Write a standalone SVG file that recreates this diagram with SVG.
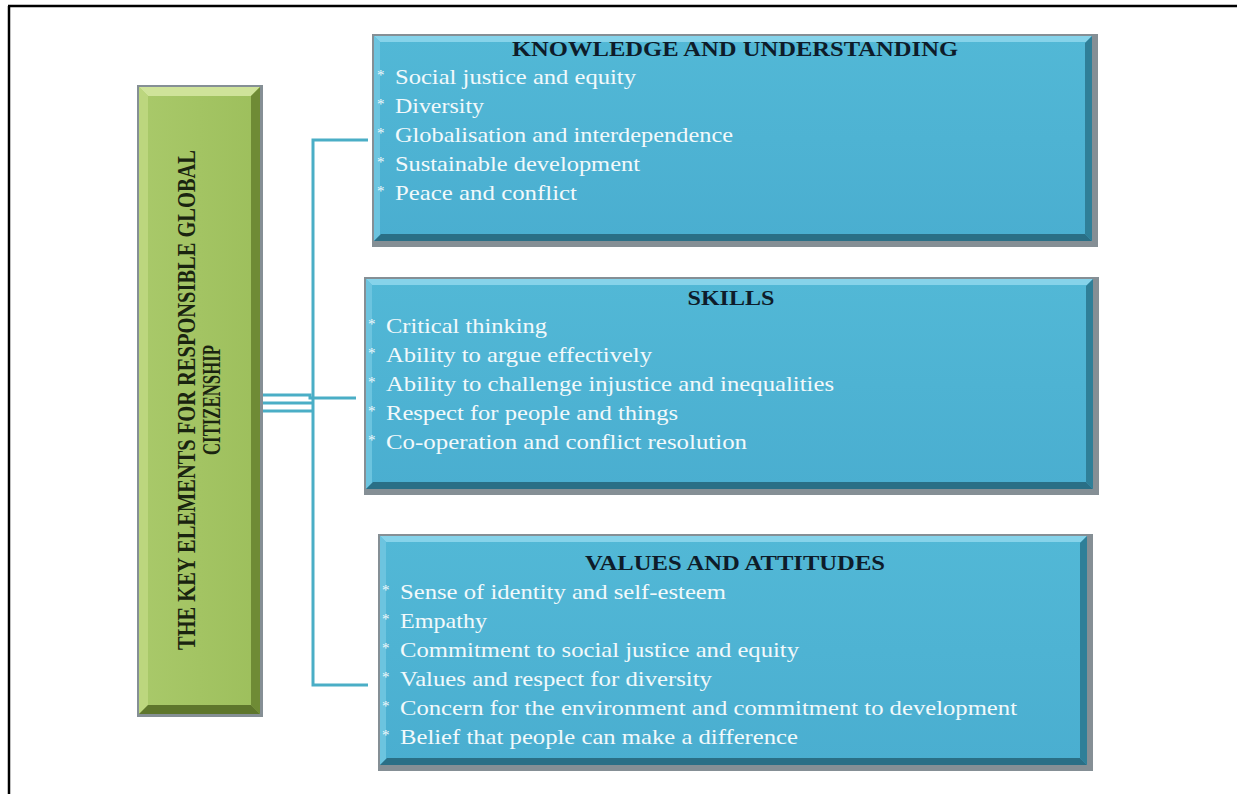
<svg xmlns="http://www.w3.org/2000/svg" width="1237" height="794" viewBox="0 0 1237 794">
<defs>
<linearGradient id="blueFill" x1="0" y1="0" x2="0" y2="1">
<stop offset="0" stop-color="#52b8d6"/>
<stop offset="1" stop-color="#4aaed0"/>
</linearGradient>
<linearGradient id="greenFill" x1="0" y1="0" x2="1" y2="0">
<stop offset="0" stop-color="#a9c96a"/>
<stop offset="1" stop-color="#9dbf5c"/>
</linearGradient>
</defs>
<style>
.frame{stroke:#000;stroke-width:2.5;fill:none}
.shadow{fill:#858f95}
.bfill{fill:url(#blueFill)}
.btop{fill:#86d3ea}
.bleft{fill:#6cc4df}
.bright{fill:#2f7f98}
.bbottom{fill:#2a6f86}
.gfill{fill:url(#greenFill)}
.gtop{fill:#cfe39a}
.gleft{fill:#bcd67e}
.gright{fill:#6f8b35}
.gbottom{fill:#5e762c}
.title{font-family:"Liberation Serif","Times New Roman",serif;font-weight:bold;font-size:20px;fill:#0e1c2a;text-anchor:middle}
.item{font-family:"Liberation Serif","Times New Roman",serif;font-size:21px;fill:#f2f9fb}
.star{font-family:"Liberation Serif","Times New Roman",serif;font-size:15px;fill:#f2f9fb}
.main{font-family:"Liberation Serif","Times New Roman",serif;font-weight:bold;font-size:25px;fill:#1a2410;text-anchor:middle}
.conn{stroke:#4aaec6;stroke-width:3;fill:none}
</style>

<path class="frame" d="M8,6 H1237 M9,6 V794"/>

<g id="connectors">
<path class="conn" d="M368,140 H313 V685 H368"/>
<path class="conn" d="M263,395 H310 V398 H356"/>
<path class="conn" d="M263,403 H313"/>
<path class="conn" d="M263,411 H313"/>
</g>

<g id="node-main">
<rect class="shadow" x="137" y="85" width="126" height="632"/>
<rect class="gfill" x="139" y="87" width="121" height="627"/>
<polygon class="gtop" points="139,87 260,87 251,96 148,96"/>
<polygon class="gleft" points="139,87 148,96 148,705 139,714"/>
<polygon class="gright" points="260,87 260,714 251,705 251,96"/>
<polygon class="gbottom" points="139,714 260,714 251,705 148,705"/>
<text class="main" transform="translate(195,400) rotate(-90)" textLength="500" lengthAdjust="spacingAndGlyphs">THE KEY ELEMENTS FOR RESPONSIBLE GLOBAL</text>
<text class="main" transform="translate(220,400) rotate(-90)" textLength="110" lengthAdjust="spacingAndGlyphs">CITIZENSHIP</text>
</g>

<g id="node-knowledge">
<rect class="shadow" x="372" y="34" width="726" height="213"/>
<rect class="bfill" x="374" y="36" width="718" height="205"/>
<polygon class="btop" points="374,36 1092,36 1086,42 380,42"/>
<polygon class="bleft" points="374,36 380,42 380,235 374,241"/>
<polygon class="bright" points="1092,36 1092,241 1085,234 1085,43"/>
<polygon class="bbottom" points="374,241 1092,241 1085,234 381,234"/>
<text class="title" x="735" y="56" textLength="446" lengthAdjust="spacingAndGlyphs">KNOWLEDGE AND UNDERSTANDING</text>
<text class="star" x="377" y="80">*</text><text class="item" x="395" y="84" textLength="241" lengthAdjust="spacingAndGlyphs">Social justice and equity</text>
<text class="star" x="377" y="109">*</text><text class="item" x="395" y="113" textLength="89" lengthAdjust="spacingAndGlyphs">Diversity</text>
<text class="star" x="377" y="138">*</text><text class="item" x="395" y="142" textLength="338" lengthAdjust="spacingAndGlyphs">Globalisation and interdependence</text>
<text class="star" x="377" y="167">*</text><text class="item" x="395" y="171" textLength="245" lengthAdjust="spacingAndGlyphs">Sustainable development</text>
<text class="star" x="377" y="196">*</text><text class="item" x="395" y="200" textLength="182" lengthAdjust="spacingAndGlyphs">Peace and conflict</text>
</g>

<g id="node-skills">
<rect class="shadow" x="364" y="277" width="735" height="218"/>
<rect class="bfill" x="366" y="279" width="727" height="210"/>
<polygon class="btop" points="366,279 1093,279 1087,285 372,285"/>
<polygon class="bleft" points="366,279 372,285 372,483 366,489"/>
<polygon class="bright" points="1093,279 1093,489 1086,482 1086,286"/>
<polygon class="bbottom" points="366,489 1093,489 1086,482 373,482"/>
<text class="title" x="731" y="305" textLength="87" lengthAdjust="spacingAndGlyphs">SKILLS</text>
<text class="star" x="368" y="329">*</text><text class="item" x="386" y="333" textLength="161" lengthAdjust="spacingAndGlyphs">Critical thinking</text>
<text class="star" x="368" y="358">*</text><text class="item" x="386" y="362" textLength="266" lengthAdjust="spacingAndGlyphs">Ability to argue effectively</text>
<text class="star" x="368" y="387">*</text><text class="item" x="386" y="391" textLength="448" lengthAdjust="spacingAndGlyphs">Ability to challenge injustice and inequalities</text>
<text class="star" x="368" y="416">*</text><text class="item" x="386" y="420" textLength="292" lengthAdjust="spacingAndGlyphs">Respect for people and things</text>
<text class="star" x="368" y="445">*</text><text class="item" x="386" y="449" textLength="361" lengthAdjust="spacingAndGlyphs">Co-operation and conflict resolution</text>
</g>

<g id="node-values">
<rect class="shadow" x="378" y="534" width="715" height="237"/>
<rect class="bfill" x="380" y="536" width="707" height="229"/>
<polygon class="btop" points="380,536 1087,536 1081,542 386,542"/>
<polygon class="bleft" points="380,536 386,542 386,759 380,765"/>
<polygon class="bright" points="1087,536 1087,765 1080,758 1080,543"/>
<polygon class="bbottom" points="380,765 1087,765 1080,758 387,758"/>
<text class="title" x="735" y="570" textLength="300" lengthAdjust="spacingAndGlyphs">VALUES AND ATTITUDES</text>
<text class="star" x="382" y="595">*</text><text class="item" x="400" y="599" textLength="326" lengthAdjust="spacingAndGlyphs">Sense of identity and self-esteem</text>
<text class="star" x="382" y="624">*</text><text class="item" x="400" y="628" textLength="87" lengthAdjust="spacingAndGlyphs">Empathy</text>
<text class="star" x="382" y="653">*</text><text class="item" x="400" y="657" textLength="399" lengthAdjust="spacingAndGlyphs">Commitment to social justice and equity</text>
<text class="star" x="382" y="682">*</text><text class="item" x="400" y="686" textLength="312" lengthAdjust="spacingAndGlyphs">Values and respect for diversity</text>
<text class="star" x="382" y="711">*</text><text class="item" x="400" y="715" textLength="617" lengthAdjust="spacingAndGlyphs">Concern for the environment and commitment to development</text>
<text class="star" x="382" y="740">*</text><text class="item" x="400" y="744" textLength="398" lengthAdjust="spacingAndGlyphs">Belief that people can make a difference</text>
</g>
</svg>
